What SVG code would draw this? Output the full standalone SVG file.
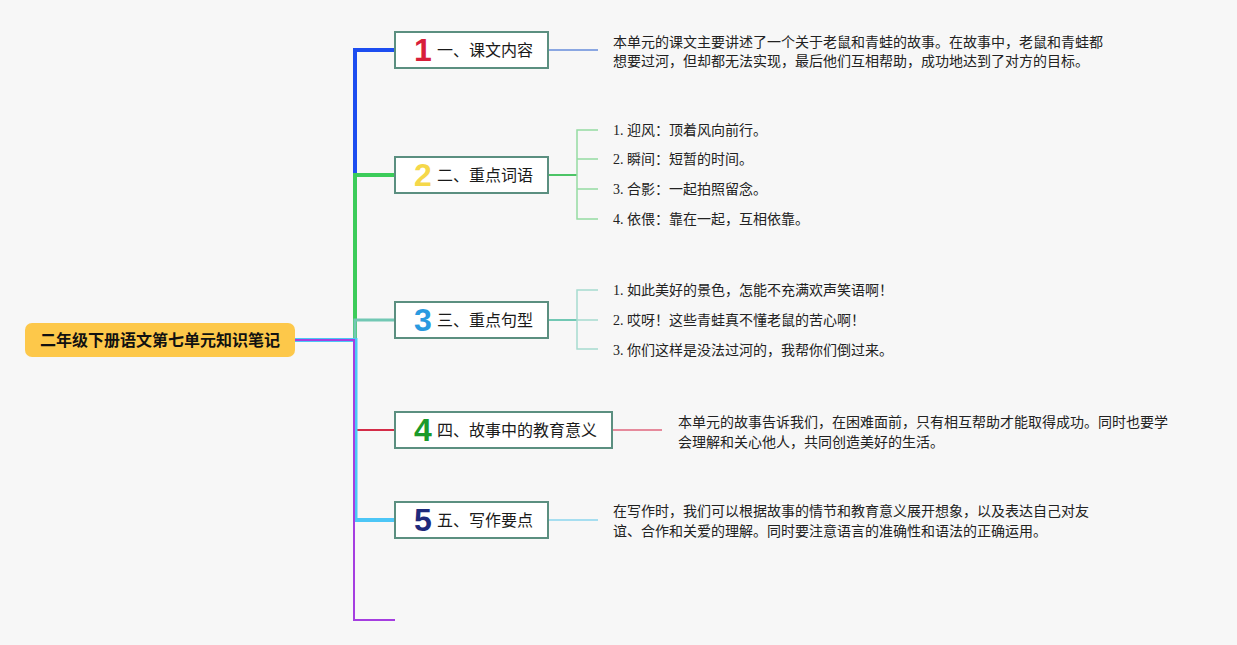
<svg xmlns="http://www.w3.org/2000/svg" width="1237" height="645" viewBox="0 0 1237 645">
<style>
.bg{fill:#f7f7f7}
.node{fill:#ffffff;stroke:#5b8f80;stroke-width:2}
.lbl{font-family:"Noto Sans CJK SC","Noto Sans",sans-serif;font-size:16px;fill:#1a1a1a}
.num{font-family:"Liberation Sans","DejaVu Sans",sans-serif;font-size:32px;font-weight:bold;text-anchor:middle}
.txt{font-family:"Noto Sans CJK SC",sans-serif;font-size:14px;fill:#222}
.item{font-family:"Liberation Serif","Noto Sans CJK SC",serif;font-size:14px;fill:#222}
.c{fill:none;stroke-linejoin:miter}
</style>
<rect class="bg" x="0" y="0" width="1237" height="645"/>
<g id="connectors">
  <path class="c" d="M295,340 H355 V50 H395" stroke="#1d4df0" stroke-width="4"/>
  <path class="c" d="M295,340 H355 V175 H395" stroke="#3ccc5a" stroke-width="4"/>
  <path class="c" d="M295,340 H355 V320 H395" stroke="#72c8b4" stroke-width="3"/>
  <path class="c" d="M295,340 H355 V430 H395" stroke="#d42c48" stroke-width="2"/>
  <path class="c" d="M295,340 H355.5 V520 H395" stroke="#4cc6f6" stroke-width="4"/>
  <path class="c" d="M295,340 H354 V620 H395" stroke="#a53ee0" stroke-width="2"/>
  <line x1="548" y1="50" x2="598" y2="50" stroke="#8aa7e2" stroke-width="2"/>
  <line x1="548" y1="175" x2="577" y2="175" stroke="#4cc466" stroke-width="2"/>
  <path class="c" d="M598,130 H577 V219 H598 M577,159 H598 M577,189 H598" stroke="#95dca3" stroke-width="1.5"/>
  <line x1="548" y1="320" x2="577" y2="320" stroke="#72c8b4" stroke-width="2"/>
  <path class="c" d="M598,290 H577 V349 H598 M577,320 H598" stroke="#a6dccf" stroke-width="1.5"/>
  <line x1="612" y1="430" x2="662" y2="430" stroke="#e68a9c" stroke-width="2"/>
  <line x1="548" y1="520" x2="598" y2="520" stroke="#a6def0" stroke-width="2"/>
</g>
<g id="root">
  <rect x="25" y="323" width="270" height="34" rx="7" fill="#fdc84a"/>
  <text x="160" y="346" font-family="'Noto Sans CJK SC',sans-serif" font-size="16" font-weight="bold" fill="#111" text-anchor="middle">二年级下册语文第七单元知识笔记</text>
</g>
<g id="node1">
  <rect class="node" x="395" y="32" width="153" height="36"/>
  <text class="num" x="423" y="61" fill="#d81e3a">1</text>
  <text class="lbl" x="437" y="56">一、课文内容</text>
  <text class="txt" x="613" y="47">本单元的课文主要讲述了一个关于老鼠和青蛙的故事。在故事中，老鼠和青蛙都</text>
  <text class="txt" x="613" y="66">想要过河，但却都无法实现，最后他们互相帮助，成功地达到了对方的目标。</text>
</g>
<g id="node2">
  <rect class="node" x="395" y="157" width="153" height="36"/>
  <text class="num" x="423" y="186" fill="#f5d84a">2</text>
  <text class="lbl" x="437" y="181">二、重点词语</text>
  <text class="item" x="613" y="135">1. 迎风：顶着风向前行。</text>
  <text class="item" x="613" y="164">2. 瞬间：短暂的时间。</text>
  <text class="item" x="613" y="194">3. 合影：一起拍照留念。</text>
  <text class="item" x="613" y="224">4. 依偎：靠在一起，互相依靠。</text>
</g>
<g id="node3">
  <rect class="node" x="395" y="302" width="153" height="36"/>
  <text class="num" x="423" y="331" fill="#2a9ae0">3</text>
  <text class="lbl" x="437" y="326">三、重点句型</text>
  <text class="item" x="613" y="295">1. 如此美好的景色，怎能不充满欢声笑语啊！</text>
  <text class="item" x="613" y="325">2. 哎呀！这些青蛙真不懂老鼠的苦心啊！</text>
  <text class="item" x="613" y="355">3. 你们这样是没法过河的，我帮你们倒过来。</text>
</g>
<g id="node4">
  <rect class="node" x="395" y="412" width="217" height="36"/>
  <text class="num" x="423" y="441" fill="#1a9a2a">4</text>
  <text class="lbl" x="437" y="436">四、故事中的教育意义</text>
  <text class="txt" x="678" y="427">本单元的故事告诉我们，在困难面前，只有相互帮助才能取得成功。同时也要学</text>
  <text class="txt" x="678" y="447">会理解和关心他人，共同创造美好的生活。</text>
</g>
<g id="node5">
  <rect class="node" x="395" y="502" width="153" height="36"/>
  <text class="num" x="423" y="531" fill="#1e2a7c">5</text>
  <text class="lbl" x="437" y="526">五、写作要点</text>
  <text class="txt" x="613" y="516">在写作时，我们可以根据故事的情节和教育意义展开想象，以及表达自己对友</text>
  <text class="txt" x="613" y="536">谊、合作和关爱的理解。同时要注意语言的准确性和语法的正确运用。</text>
</g>
</svg>
